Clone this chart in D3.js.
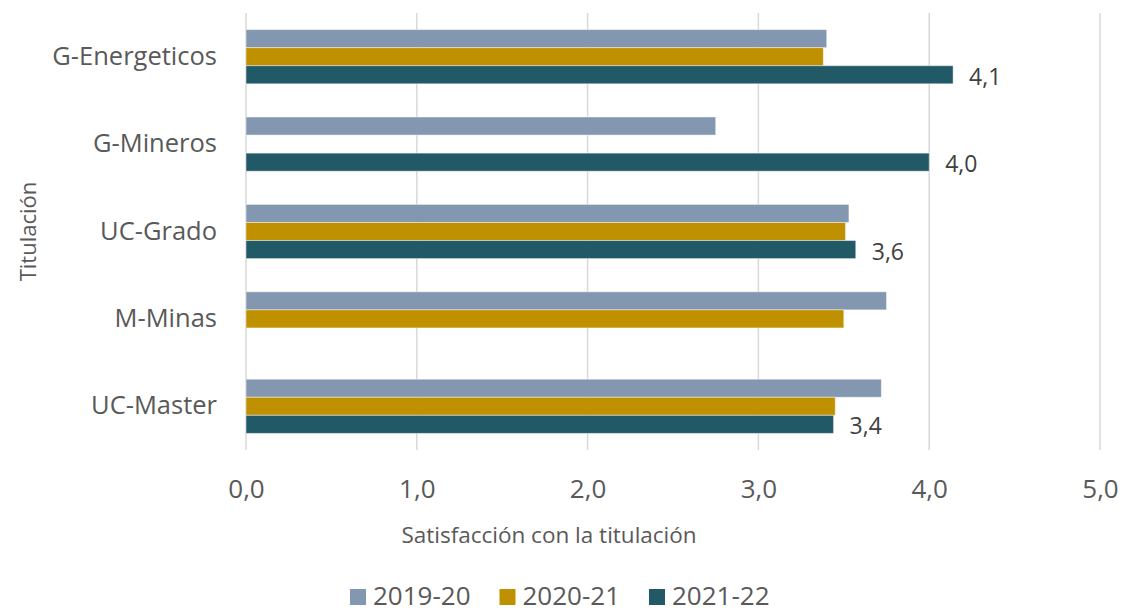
<!DOCTYPE html>
<html>
<head>
<meta charset="utf-8">
<script src="https://cdn.jsdelivr.net/npm/d3@7"></script>
<style>
  body { margin: 0; background: #fff; }
  svg { display: block; font-family: 'Open Sans', sans-serif; }
</style>
</head>
<body>
<div id="chart"></div>
<script>
// categories, top to bottom
const categories = ['G-Energeticos', 'G-Mineros', 'UC-Grado', 'M-Minas', 'UC-Master'];
const series = ['2019-20', '2020-21', '2021-22'];

// values per series (null = no bar)
const values_2019 = [3.40, 2.75, 3.53, 3.75, 3.72];
const values_2020 = [3.38, null, 3.51, 3.50, 3.45];
const values_2021 = [4.14, 4.00, 3.57, null, 3.44];

const ticks = [0, 1, 2, 3, 4, 5];

const colors = { '2019-20': '#8497b0', '2020-21': '#bf9000', '2021-22': '#215967' };
const labelled = '2021-22';

const width = 1124, height = 612;
const margin = { top: 13, right: 24, bottom: 162, left: 246 };

const table = categories.map((c, i) => ({
  cat: c,
  '2019-20': values_2019[i],
  '2020-21': values_2020[i],
  '2021-22': values_2021[i]
}));

const fmt = v => d3.format('.1f')(v).replace('.', ',');

const svg = d3.select('#chart').append('svg')
  .attr('width', width)
  .attr('height', height);

const x = d3.scaleLinear()
  .domain([0, 5])
  .range([margin.left, width - margin.right]);

const y = d3.scaleBand()
  .domain(categories)
  .range([margin.top, height - margin.bottom])
  .paddingInner(0.38)
  .paddingOuter(0.19);

const ys = d3.scaleBand()
  .domain(series)
  .range([0, y.bandwidth()]);

// gridlines
svg.append('g')
  .selectAll('line')
  .data(ticks)
  .join('line')
  .attr('x1', d => x(d))
  .attr('x2', d => x(d))
  .attr('y1', margin.top)
  .attr('y2', height - margin.bottom)
  .attr('stroke', '#d9d9d9')
  .attr('stroke-width', 1.5);

// x axis labels
const xAxis = svg.append('g')
  .attr('transform', `translate(0,${height - margin.bottom})`)
  .call(d3.axisBottom(x).tickValues(ticks).tickFormat(fmt).tickSize(0).tickPadding(30));
xAxis.select('.domain').remove();
xAxis.selectAll('text')
  .attr('fill', '#595959')
  .style('font-size', '26px')
  .style('font-family', "'Open Sans', sans-serif");

// y axis labels
const yAxis = svg.append('g')
  .attr('transform', `translate(${margin.left},0)`)
  .call(d3.axisLeft(y).tickSize(0).tickPadding(29));
yAxis.select('.domain').remove();
yAxis.selectAll('text')
  .attr('fill', '#595959')
  .style('font-size', '25.5px')
  .style('font-family', "'Open Sans', sans-serif");

// bars
const groups = svg.append('g')
  .selectAll('g')
  .data(table)
  .join('g')
  .attr('transform', d => `translate(0,${y(d.cat)})`);

groups.selectAll('rect')
  .data(d => series.map(s => ({ s, v: d[s] })).filter(e => e.v != null))
  .join('rect')
  .attr('x', x(0))
  .attr('y', e => ys(e.s))
  .attr('width', e => x(e.v) - x(0))
  .attr('height', ys.bandwidth())
  .attr('fill', e => colors[e.s])
  .attr('stroke', 'rgba(255,255,255,0.45)')
  .attr('stroke-width', 1);

// data labels on last series
groups.selectAll('text.lbl')
  .data(d => (d[labelled] != null ? [d[labelled]] : []))
  .join('text')
  .attr('class', 'lbl')
  .attr('x', v => x(v) + 16)
  .attr('y', ys(labelled) + ys.bandwidth() / 2 + 2)
  .attr('dy', '0.35em')
  .attr('fill', '#404040')
  .style('font-size', '23px')
  .text(fmt);

// axis titles
svg.append('text')
  .attr('x', 549)
  .attr('y', 543)
  .attr('text-anchor', 'middle')
  .attr('fill', '#595959')
  .style('font-size', '22.5px')
  .text('Satisfacción con la titulación');

svg.append('text')
  .attr('transform', `translate(28,${(margin.top + height - margin.bottom) / 2}) rotate(-90)`)
  .attr('text-anchor', 'middle')
  .attr('dy', '0.35em')
  .attr('fill', '#595959')
  .style('font-size', '22px')
  .text('Titulación');

// legend (kept just inside the bottom edge)
const legend = svg.append('g')
  .attr('transform', 'translate(350,605)');

const item = legend.selectAll('g')
  .data(series)
  .join('g')
  .attr('transform', (d, i) => `translate(${i * 149.5},0)`);

item.append('rect')
  .attr('x', 0)
  .attr('y', -16)
  .attr('width', 16)
  .attr('height', 16)
  .attr('fill', d => colors[d]);

item.append('text')
  .attr('x', 23)
  .attr('y', 0)
  .attr('fill', '#595959')
  .style('font-size', '26px')
  .text(d => d);
</script>
</body>
</html>
